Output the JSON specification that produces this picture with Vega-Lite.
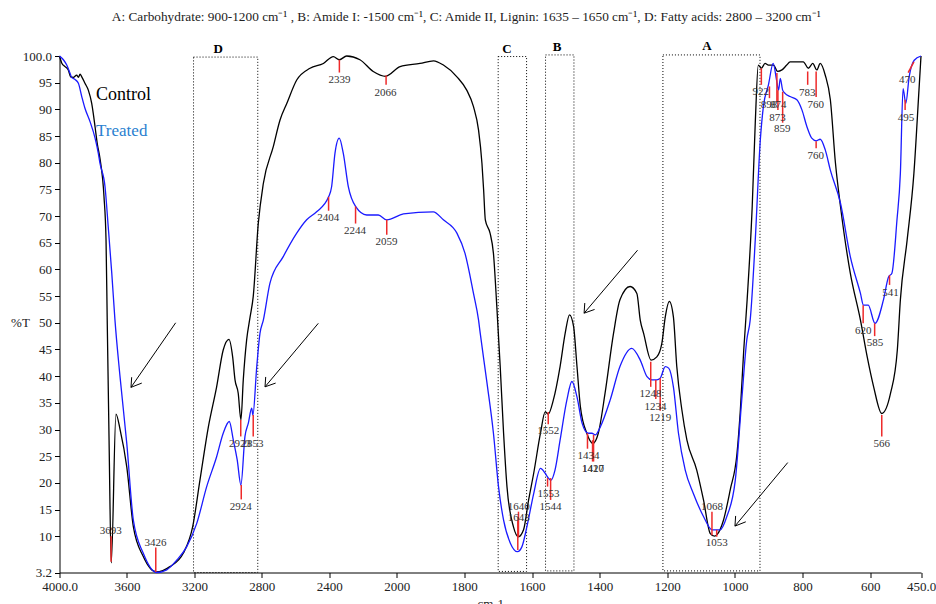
{
  "$schema": "https://vega.github.io/schema/vega-lite/v6.json",
  "autosize": "none",
  "width": 861.5,
  "height": 516.5,
  "padding": {"left": 59.5, "top": 56, "right": 15, "bottom": 31.5},
  "background": "white",
  "config": {"view": {"stroke": null}},
  "title": {
    "text": "A: Carbohydrate: 900-1200 cm⁻¹ , B: Amide I: -1500 cm⁻¹, C: Amide II, Lignin: 1635 – 1650 cm⁻¹, D: Fatty  acids: 2800 – 3200 cm⁻¹",
    "font": "Liberation Serif", "fontSize": 13.3, "fontWeight": "normal", "color": "#222",
    "anchor": "middle", "dx": -24, "offset": 17
  },
  "datasets": {
    "spectra": [
      {"series":"Control","wn":4000,"T":100.0},{"series":"Control","wn":3987,"T":98.7},{"series":"Control","wn":3967,"T":98.0},{"series":"Control","wn":3948,"T":97.4},{"series":"Control","wn":3934,"T":96.1},{"series":"Control","wn":3918,"T":96.0},{"series":"Control","wn":3898,"T":96.4},{"series":"Control","wn":3888,"T":96.0},{"series":"Control","wn":3878,"T":96.6},{"series":"Control","wn":3868,"T":96.1},{"series":"Control","wn":3849,"T":94.9},{"series":"Control","wn":3829,"T":93.6},{"series":"Control","wn":3809,"T":91.1},{"series":"Control","wn":3800,"T":89.3},{"series":"Control","wn":3789,"T":86.7},{"series":"Control","wn":3776,"T":83.6},{"series":"Control","wn":3760,"T":80.8},{"series":"Control","wn":3736,"T":73.6},{"series":"Control","wn":3724,"T":65.5},{"series":"Control","wn":3717,"T":50.5},{"series":"Control","wn":3706,"T":28.0},{"series":"Control","wn":3693,"T":5.0},{"series":"Control","wn":3665,"T":32.9},{"series":"Control","wn":3640,"T":29.9},{"series":"Control","wn":3601,"T":23.0},{"series":"Control","wn":3562,"T":11.8},{"series":"Control","wn":3503,"T":6.2},{"series":"Control","wn":3426,"T":3.3},{"series":"Control","wn":3345,"T":4.3},{"series":"Control","wn":3266,"T":6.8},{"series":"Control","wn":3210,"T":11.8},{"series":"Control","wn":3167,"T":20.5},{"series":"Control","wn":3117,"T":30.5},{"series":"Control","wn":3068,"T":38.0},{"series":"Control","wn":3029,"T":44.9},{"series":"Control","wn":2995,"T":46.9},{"series":"Control","wn":2973,"T":43.6},{"series":"Control","wn":2959,"T":39.3},{"series":"Control","wn":2940,"T":36.8},{"series":"Control","wn":2924,"T":31.8},{"series":"Control","wn":2910,"T":39.3},{"series":"Control","wn":2890,"T":46.8},{"series":"Control","wn":2870,"T":51.0},{"series":"Control","wn":2851,"T":54.9},{"series":"Control","wn":2821,"T":68.6},{"series":"Control","wn":2791,"T":76.1},{"series":"Control","wn":2732,"T":83.0},{"series":"Control","wn":2692,"T":88.0},{"series":"Control","wn":2652,"T":91.1},{"series":"Control","wn":2593,"T":95.5},{"series":"Control","wn":2514,"T":97.7},{"series":"Control","wn":2435,"T":98.6},{"series":"Control","wn":2376,"T":99.9},{"series":"Control","wn":2340,"T":99.3},{"series":"Control","wn":2297,"T":100.0},{"series":"Control","wn":2218,"T":99.3},{"series":"Control","wn":2139,"T":97.1},{"series":"Control","wn":2066,"T":96.2},{"series":"Control","wn":1990,"T":98.0},{"series":"Control","wn":1931,"T":98.6},{"series":"Control","wn":1891,"T":99.1},{"series":"Control","wn":1862,"T":98.3},{"series":"Control","wn":1822,"T":96.1},{"series":"Control","wn":1793,"T":93.6},{"series":"Control","wn":1773,"T":90.5},{"series":"Control","wn":1758,"T":86.1},{"series":"Control","wn":1748,"T":79.9},{"series":"Control","wn":1743,"T":74.9},{"series":"Control","wn":1738,"T":69.3},{"series":"Control","wn":1724,"T":66.8},{"series":"Control","wn":1714,"T":63.0},{"series":"Control","wn":1704,"T":53.0},{"series":"Control","wn":1694,"T":41.8},{"series":"Control","wn":1684,"T":29.3},{"series":"Control","wn":1674,"T":19.3},{"series":"Control","wn":1655,"T":11.8},{"series":"Control","wn":1640,"T":9.9},{"series":"Control","wn":1625,"T":11.2},{"series":"Control","wn":1610,"T":16.8},{"series":"Control","wn":1595,"T":21.8},{"series":"Control","wn":1575,"T":29.3},{"series":"Control","wn":1561,"T":33.3},{"series":"Control","wn":1552,"T":32.9},{"series":"Control","wn":1537,"T":35.5},{"series":"Control","wn":1517,"T":41.8},{"series":"Control","wn":1502,"T":48.0},{"series":"Control","wn":1489,"T":51.5},{"series":"Control","wn":1477,"T":49.3},{"series":"Control","wn":1467,"T":41.8},{"series":"Control","wn":1457,"T":34.3},{"series":"Control","wn":1438,"T":29.3},{"series":"Control","wn":1420,"T":27.4},{"series":"Control","wn":1404,"T":29.3},{"series":"Control","wn":1384,"T":36.8},{"series":"Control","wn":1359,"T":48.0},{"series":"Control","wn":1340,"T":54.3},{"series":"Control","wn":1310,"T":56.8},{"series":"Control","wn":1290,"T":55.5},{"series":"Control","wn":1280,"T":50.5},{"series":"Control","wn":1270,"T":48.0},{"series":"Control","wn":1248,"T":43.0},{"series":"Control","wn":1231,"T":43.6},{"series":"Control","wn":1216,"T":46.2},{"series":"Control","wn":1206,"T":51.1},{"series":"Control","wn":1194,"T":54.0},{"series":"Control","wn":1182,"T":51.1},{"series":"Control","wn":1172,"T":41.8},{"series":"Control","wn":1157,"T":33.7},{"series":"Control","wn":1142,"T":28.0},{"series":"Control","wn":1113,"T":22.4},{"series":"Control","wn":1093,"T":16.8},{"series":"Control","wn":1073,"T":10.5},{"series":"Control","wn":1060,"T":10.0},{"series":"Control","wn":1053,"T":10.3},{"series":"Control","wn":1034,"T":13.0},{"series":"Control","wn":1014,"T":18.7},{"series":"Control","wn":994,"T":25.5},{"series":"Control","wn":984,"T":33.7},{"series":"Control","wn":974,"T":44.9},{"series":"Control","wn":964,"T":54.3},{"series":"Control","wn":949,"T":71.8},{"series":"Control","wn":940,"T":87.4},{"series":"Control","wn":931,"T":98.3},{"series":"Control","wn":922,"T":97.7},{"series":"Control","wn":911,"T":98.6},{"series":"Control","wn":901,"T":98.3},{"series":"Control","wn":886,"T":98.3},{"series":"Control","wn":874,"T":97.1},{"series":"Control","wn":861,"T":97.4},{"series":"Control","wn":847,"T":98.3},{"series":"Control","wn":837,"T":98.9},{"series":"Control","wn":798,"T":98.9},{"series":"Control","wn":783,"T":97.7},{"series":"Control","wn":770,"T":98.6},{"series":"Control","wn":758,"T":97.4},{"series":"Control","wn":748,"T":98.6},{"series":"Control","wn":733,"T":96.4},{"series":"Control","wn":718,"T":91.8},{"series":"Control","wn":703,"T":80.0},{"series":"Control","wn":688,"T":71.8},{"series":"Control","wn":659,"T":59.3},{"series":"Control","wn":629,"T":50.5},{"series":"Control","wn":609,"T":43.6},{"series":"Control","wn":590,"T":38.0},{"series":"Control","wn":566,"T":33.0},{"series":"Control","wn":540,"T":36.8},{"series":"Control","wn":520,"T":44.9},{"series":"Control","wn":511,"T":54.3},{"series":"Control","wn":491,"T":65.5},{"series":"Control","wn":471,"T":78.0},{"series":"Control","wn":456,"T":93.6},{"series":"Control","wn":450,"T":100.0},
      {"series":"Treated","wn":4000,"T":100.0},{"series":"Treated","wn":3977,"T":99.3},{"series":"Treated","wn":3957,"T":98.3},{"series":"Treated","wn":3938,"T":96.8},{"series":"Treated","wn":3928,"T":96.0},{"series":"Treated","wn":3908,"T":95.6},{"series":"Treated","wn":3888,"T":94.9},{"series":"Treated","wn":3868,"T":92.4},{"series":"Treated","wn":3849,"T":90.2},{"series":"Treated","wn":3819,"T":87.7},{"series":"Treated","wn":3789,"T":84.6},{"series":"Treated","wn":3770,"T":81.8},{"series":"Treated","wn":3760,"T":79.9},{"series":"Treated","wn":3730,"T":75.5},{"series":"Treated","wn":3711,"T":68.0},{"series":"Treated","wn":3690,"T":59.3},{"series":"Treated","wn":3671,"T":50.5},{"series":"Treated","wn":3641,"T":39.9},{"series":"Treated","wn":3601,"T":27.4},{"series":"Treated","wn":3562,"T":13.0},{"series":"Treated","wn":3503,"T":6.8},{"series":"Treated","wn":3424,"T":3.2},{"series":"Treated","wn":3364,"T":3.7},{"series":"Treated","wn":3305,"T":5.5},{"series":"Treated","wn":3246,"T":8.0},{"series":"Treated","wn":3186,"T":12.4},{"series":"Treated","wn":3127,"T":19.3},{"series":"Treated","wn":3068,"T":24.9},{"series":"Treated","wn":3029,"T":29.3},{"series":"Treated","wn":2993,"T":31.5},{"series":"Treated","wn":2969,"T":28.0},{"series":"Treated","wn":2946,"T":24.3},{"series":"Treated","wn":2924,"T":19.6},{"series":"Treated","wn":2900,"T":28.7},{"series":"Treated","wn":2880,"T":31.2},{"series":"Treated","wn":2860,"T":34.0},{"series":"Treated","wn":2853,"T":32.7},{"series":"Treated","wn":2830,"T":41.8},{"series":"Treated","wn":2811,"T":48.0},{"series":"Treated","wn":2791,"T":50.5},{"series":"Treated","wn":2752,"T":57.4},{"series":"Treated","wn":2673,"T":62.4},{"series":"Treated","wn":2593,"T":66.8},{"series":"Treated","wn":2534,"T":69.3},{"series":"Treated","wn":2475,"T":70.8},{"series":"Treated","wn":2404,"T":73.6},{"series":"Treated","wn":2386,"T":75.5},{"series":"Treated","wn":2366,"T":81.8},{"series":"Treated","wn":2341,"T":84.6},{"series":"Treated","wn":2317,"T":81.8},{"series":"Treated","wn":2287,"T":75.5},{"series":"Treated","wn":2244,"T":71.8},{"series":"Treated","wn":2178,"T":70.2},{"series":"Treated","wn":2109,"T":70.2},{"series":"Treated","wn":2059,"T":69.3},{"series":"Treated","wn":1980,"T":70.4},{"series":"Treated","wn":1892,"T":70.8},{"series":"Treated","wn":1862,"T":69.3},{"series":"Treated","wn":1822,"T":66.8},{"series":"Treated","wn":1798,"T":63.0},{"series":"Treated","wn":1773,"T":55.5},{"series":"Treated","wn":1758,"T":50.5},{"series":"Treated","wn":1753,"T":48.0},{"series":"Treated","wn":1733,"T":38.7},{"series":"Treated","wn":1714,"T":29.3},{"series":"Treated","wn":1699,"T":19.3},{"series":"Treated","wn":1684,"T":13.0},{"series":"Treated","wn":1664,"T":8.7},{"series":"Treated","wn":1643,"T":7.1},{"series":"Treated","wn":1630,"T":8.0},{"series":"Treated","wn":1615,"T":11.8},{"series":"Treated","wn":1595,"T":18.0},{"series":"Treated","wn":1575,"T":22.7},{"series":"Treated","wn":1561,"T":21.8},{"series":"Treated","wn":1553,"T":21.0},{"series":"Treated","wn":1544,"T":20.5},{"series":"Treated","wn":1532,"T":22.4},{"series":"Treated","wn":1517,"T":28.0},{"series":"Treated","wn":1497,"T":35.5},{"series":"Treated","wn":1482,"T":39.0},{"series":"Treated","wn":1467,"T":36.1},{"series":"Treated","wn":1452,"T":31.2},{"series":"Treated","wn":1434,"T":29.3},{"series":"Treated","wn":1423,"T":29.3},{"series":"Treated","wn":1413,"T":29.0},{"series":"Treated","wn":1398,"T":30.5},{"series":"Treated","wn":1369,"T":35.5},{"series":"Treated","wn":1340,"T":41.8},{"series":"Treated","wn":1305,"T":45.2},{"series":"Treated","wn":1280,"T":43.0},{"series":"Treated","wn":1260,"T":39.9},{"series":"Treated","wn":1246,"T":39.3},{"series":"Treated","wn":1231,"T":39.3},{"series":"Treated","wn":1221,"T":39.6},{"series":"Treated","wn":1206,"T":41.8},{"series":"Treated","wn":1196,"T":41.5},{"series":"Treated","wn":1182,"T":38.0},{"series":"Treated","wn":1167,"T":29.3},{"series":"Treated","wn":1147,"T":22.4},{"series":"Treated","wn":1123,"T":18.0},{"series":"Treated","wn":1093,"T":13.7},{"series":"Treated","wn":1068,"T":11.2},{"series":"Treated","wn":1044,"T":11.2},{"series":"Treated","wn":1024,"T":13.7},{"series":"Treated","wn":999,"T":20.5},{"series":"Treated","wn":980,"T":35.5},{"series":"Treated","wn":965,"T":46.8},{"series":"Treated","wn":955,"T":50.5},{"series":"Treated","wn":940,"T":65.5},{"series":"Treated","wn":925,"T":84.3},{"series":"Treated","wn":916,"T":90.5},{"series":"Treated","wn":901,"T":94.6},{"series":"Treated","wn":887,"T":98.6},{"series":"Treated","wn":877,"T":95.5},{"series":"Treated","wn":871,"T":93.6},{"series":"Treated","wn":866,"T":95.8},{"series":"Treated","wn":859,"T":93.6},{"series":"Treated","wn":852,"T":93.0},{"series":"Treated","wn":837,"T":92.4},{"series":"Treated","wn":817,"T":91.8},{"series":"Treated","wn":802,"T":89.9},{"series":"Treated","wn":787,"T":86.7},{"series":"Treated","wn":773,"T":84.6},{"series":"Treated","wn":760,"T":84.1},{"series":"Treated","wn":748,"T":84.4},{"series":"Treated","wn":733,"T":82.4},{"series":"Treated","wn":718,"T":78.6},{"series":"Treated","wn":688,"T":72.4},{"series":"Treated","wn":659,"T":62.4},{"series":"Treated","wn":629,"T":55.5},{"series":"Treated","wn":620,"T":53.3},{"series":"Treated","wn":606,"T":53.3},{"series":"Treated","wn":586,"T":49.9},{"series":"Treated","wn":561,"T":54.3},{"series":"Treated","wn":546,"T":58.6},{"series":"Treated","wn":536,"T":59.3},{"series":"Treated","wn":521,"T":69.3},{"series":"Treated","wn":511,"T":78.0},{"series":"Treated","wn":503,"T":93.9},{"series":"Treated","wn":495,"T":91.1},{"series":"Treated","wn":485,"T":96.1},{"series":"Treated","wn":470,"T":99.2},{"series":"Treated","wn":450,"T":100.0}
    ],
    "boxes": [
      {"name":"D","wn":3205,"wn2":2824,"T":3.2,"T2":99.8,"lwn":3059,"lT":101.3},
      {"name":"C","wn":1700,"wn2":1616,"T":3.4,"T2":99.9,"lwn":1674,"lT":101.4},
      {"name":"B","wn":1560,"wn2":1476,"T":3.5,"T2":100.2,"lwn":1526,"lT":101.6},
      {"name":"A","wn":1213,"wn2":926,"T":3.5,"T2":100.2,"lwn":1083,"lT":101.9}
    ],
    "ticks": [
      {"wn":3694,"wn2":3694,"T":10.0,"T2":5.2},
      {"wn":3429,"wn2":3429,"T":7.9,"T2":3.3},
      {"wn":2925,"wn2":2925,"T":31.8,"T2":28.7},
      {"wn":2851,"wn2":2851,"T":32.7,"T2":28.7},
      {"wn":2922,"wn2":2922,"T":19.6,"T2":16.9},
      {"wn":2340,"wn2":2340,"T":99.3,"T2":96.9},
      {"wn":2063,"wn2":2063,"T":96.4,"T2":94.6},
      {"wn":2404,"wn2":2404,"T":73.6,"T2":71.0},
      {"wn":2244,"wn2":2244,"T":71.8,"T2":68.6},
      {"wn":2059,"wn2":2059,"T":69.3,"T2":66.5},
      {"wn":1552,"wn2":1552,"T":33.3,"T2":31.0},
      {"wn":1554,"wn2":1554,"T":20.9,"T2":19.3},
      {"wn":1545,"wn2":1545,"T":20.9,"T2":16.8},
      {"wn":1640,"wn2":1640,"T":14.6,"T2":9.9},
      {"wn":1642,"wn2":1642,"T":13.0,"T2":7.4},
      {"wn":1436,"wn2":1436,"T":29.3,"T2":26.4},
      {"wn":1418,"wn2":1418,"T":29.0,"T2":24.0},
      {"wn":1421,"wn2":1421,"T":28.0,"T2":24.0},
      {"wn":1249,"wn2":1249,"T":42.7,"T2":38.0},
      {"wn":1234,"wn2":1234,"T":39.3,"T2":35.7},
      {"wn":1221,"wn2":1221,"T":39.6,"T2":33.5},
      {"wn":1068,"wn2":1068,"T":14.6,"T2":10.2},
      {"wn":1054,"wn2":1054,"T":11.2,"T2":9.9},
      {"wn":922,"wn2":922,"T":97.7,"T2":94.6},
      {"wn":898,"wn2":898,"T":94.3,"T2":92.1},
      {"wn":876,"wn2":876,"T":96.8,"T2":91.4},
      {"wn":873,"wn2":873,"T":93.6,"T2":89.9},
      {"wn":859,"wn2":859,"T":93.3,"T2":87.5},
      {"wn":785,"wn2":785,"T":97.1,"T2":94.6},
      {"wn":760,"wn2":760,"T":97.1,"T2":92.3},
      {"wn":760,"wn2":760,"T":84.0,"T2":82.7},
      {"wn":488,"wn2":471,"T":96.9,"T2":98.9},
      {"wn":497,"wn2":497,"T":91.8,"T2":89.9},
      {"wn":621,"wn2":621,"T":53.3,"T2":49.9},
      {"wn":587,"wn2":587,"T":49.9,"T2":47.5},
      {"wn":566,"wn2":566,"T":32.7,"T2":28.7},
      {"wn":543,"wn2":543,"T":58.9,"T2":57.1}
    ],
    "labels": [
      {"txt":"3693","wn":3696,"T":11.0},
      {"txt":"3426","wn":3431,"T":8.8},
      {"txt":"2923","wn":2930,"T":27.3},
      {"txt":"2853","wn":2856,"T":27.3},
      {"txt":"2924","wn":2925,"T":15.5},
      {"txt":"2339","wn":2339,"T":95.5},
      {"txt":"2066","wn":2066,"T":93.1},
      {"txt":"2404","wn":2406,"T":69.7},
      {"txt":"2244","wn":2248,"T":67.2},
      {"txt":"2059","wn":2061,"T":65.1},
      {"txt":"1552","wn":1552,"T":29.8},
      {"txt":"1553","wn":1551,"T":18.0},
      {"txt":"1544","wn":1545,"T":15.5},
      {"txt":"1640","wn":1639,"T":15.5},
      {"txt":"1643","wn":1639,"T":13.4},
      {"txt":"1434","wn":1433,"T":25.1},
      {"txt":"1420","wn":1420,"T":22.6},
      {"txt":"1417","wn":1420,"T":22.6},
      {"txt":"1248","wn":1250,"T":36.7},
      {"txt":"1234","wn":1235,"T":34.3},
      {"txt":"1219","wn":1221,"T":32.1},
      {"txt":"1068","wn":1068,"T":15.5},
      {"txt":"1053","wn":1054,"T":8.7},
      {"txt":"922","wn":924,"T":93.2},
      {"txt":"898","wn":899,"T":90.9},
      {"txt":"874","wn":872,"T":90.9},
      {"txt":"873","wn":874,"T":88.4},
      {"txt":"859","wn":860,"T":86.3},
      {"txt":"783","wn":786,"T":93.1},
      {"txt":"760","wn":761,"T":90.9},
      {"txt":"760","wn":761,"T":81.3},
      {"txt":"470","wn":491,"T":95.5},
      {"txt":"495","wn":494,"T":88.4},
      {"txt":"620","wn":621,"T":48.5},
      {"txt":"585","wn":586,"T":46.2},
      {"txt":"566","wn":566,"T":27.3},
      {"txt":"541","wn":540,"T":55.5}
    ],
    "arrows": [
      {"wn":3311,"T":50.0,"wn2":3576,"T2":37.9},{"wn":3576,"T":37.9,"wn2":3572,"T2":39.8},{"wn":3576,"T":37.9,"wn2":3512,"T2":38.7},
      {"wn":2465,"T":49.9,"wn2":2781,"T2":38.0},{"wn":2781,"T":38.0,"wn2":2777,"T2":39.85},{"wn":2781,"T":38.0,"wn2":2718,"T2":38.7},
      {"wn":1288,"T":63.6,"wn2":1446,"T2":51.8},{"wn":1446,"T":51.8,"wn2":1444,"T2":53.7},{"wn":1446,"T":51.8,"wn2":1415,"T2":52.5},
      {"wn":844,"T":23.8,"wn2":1000,"T2":11.9},{"wn":1000,"T":11.9,"wn2":998,"T2":13.8},{"wn":1000,"T":11.9,"wn2":968,"T2":12.7}
    ],
    "legendtext": [
      {"txt":"Control","wn":3783,"T":92.7},
      {"txt":"Treated","wn":3783,"T":86.0}
    ]
  },
  "encoding": {
    "x": {
      "field": "wn", "type": "quantitative",
      "scale": {"domain": [4000, 2000, 450], "range": [0, 337.2, 861.5], "nice": false, "zero": false},
      "axis": {
        "title": "cm-1",
        "values": [4000, 3600, 3200, 2800, 2400, 2000, 1800, 1600, 1400, 1200, 1000, 800, 600, 450],
        "format": "d",
        "labelExpr": "datum.value == 4000 ? '4000.0' : datum.value == 450 ? '450.0' : datum.label",
        "grid": false, "domainColor": "#000", "tickColor": "#000", "tickSize": 5, "labelPadding": 3,
        "labelFont": "Liberation Serif", "labelFontSize": 13, "labelColor": "#222",
        "labelFlush": false, "labelOverlap": false,
        "titleFont": "Liberation Serif", "titleFontSize": 13, "titleFontWeight": "normal", "titleColor": "#222",
        "titleY": 25, "titleBaseline": "top"
      }
    },
    "y": {
      "field": "T", "type": "quantitative",
      "scale": {"domain": [3.2, 100], "nice": false, "zero": false},
      "axis": {
        "title": "%T",
        "values": [3.2, 10, 15, 20, 25, 30, 35, 40, 45, 50, 55, 60, 65, 70, 75, 80, 85, 90, 95, 100],
        "labelExpr": "datum.value == 100 ? '100.0' : datum.value == 3.2 ? '3.2' : format(datum.value, 'd')",
        "grid": false, "domainColor": "#000", "tickColor": "#000", "tickSize": 5, "labelPadding": 3,
        "labelFont": "Liberation Serif", "labelFontSize": 13, "labelColor": "#222",
        "labelFlush": false, "labelOverlap": false,
        "titleFont": "Liberation Serif", "titleFontSize": 13, "titleFontWeight": "normal", "titleColor": "#222",
        "titleAngle": 0, "titleX": -39.5, "titleY": 266, "titleAlign": "center", "titleBaseline": "middle"
      }
    }
  },
  "layer": [
    {
      "data": {"name": "boxes"},
      "mark": {"type": "rect", "fill": null, "stroke": "#000", "strokeWidth": 1, "strokeDash": [1, 2]},
      "encoding": {"x2": {"field": "wn2"}, "y2": {"field": "T2"}}
    },
    {
      "data": {"name": "boxes"},
      "mark": {"type": "text", "font": "Liberation Serif", "fontSize": 13, "fontWeight": "bold", "baseline": "middle", "align": "center", "color": "#000"},
      "encoding": {"x": {"field": "lwn", "type": "quantitative"}, "y": {"field": "lT", "type": "quantitative"}, "text": {"field": "name"}}
    },
    {
      "data": {"name": "spectra"},
      "mark": {"type": "line", "strokeWidth": 1.3, "interpolate": "monotone"},
      "encoding": {
        "color": {"field": "series", "type": "nominal", "scale": {"domain": ["Control", "Treated"], "range": ["#000000", "#1a1aff"]}, "legend": null},
        "order": {"field": "wn", "type": "quantitative"}
      }
    },
    {
      "data": {"name": "ticks"},
      "mark": {"type": "rule", "color": "#ee2a2a", "strokeWidth": 1.5},
      "encoding": {"x2": {"field": "wn2"}, "y2": {"field": "T2"}}
    },
    {
      "data": {"name": "labels"},
      "mark": {"type": "text", "font": "Liberation Serif", "fontSize": 11, "baseline": "middle", "align": "center", "color": "#333"},
      "encoding": {"text": {"field": "txt"}}
    },
    {
      "data": {"name": "arrows"},
      "mark": {"type": "rule", "color": "#000", "strokeWidth": 1},
      "encoding": {"x2": {"field": "wn2"}, "y2": {"field": "T2"}}
    },
    {
      "data": {"name": "legendtext"},
      "transform": [{"filter": "datum.txt == 'Control'"}],
      "mark": {"type": "text", "font": "Liberation Serif", "fontSize": 18, "baseline": "middle", "align": "left", "color": "#000"},
      "encoding": {"text": {"field": "txt"}}
    },
    {
      "data": {"name": "legendtext"},
      "transform": [{"filter": "datum.txt == 'Treated'"}],
      "mark": {"type": "text", "font": "Liberation Serif", "fontSize": 17, "baseline": "middle", "align": "left", "color": "#2a7fd0"},
      "encoding": {"text": {"field": "txt"}}
    }
  ]
}
